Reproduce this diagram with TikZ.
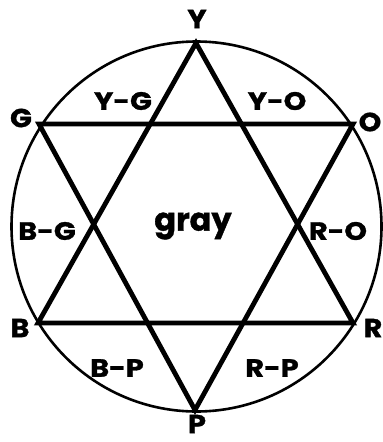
\documentclass[tikz,border=0pt]{standalone}
\usepackage{fontspec}
\setmainfont{Poppins}
\newfontfamily\heavy{Poppins}[BoldFeatures={FakeBold=1.2}]
\begin{document}
\begin{tikzpicture}[x=1pt,y=-1pt,
  vlab/.style={font=\heavy\fontsize{26}{26}\selectfont\bfseries, inner sep=0pt, xscale=1.1},
  rlab/.style={font=\heavy\fontsize{25}{25}\selectfont\bfseries, inner sep=0pt, xscale=1.15},
  glab/.style={font=\heavy\fontsize{32}{32}\selectfont\bfseries, inner sep=0pt, xscale=1.0},
  star/.style={line width=4.8pt, line join=miter, miter limit=10},
  ring/.style={line width=2.6pt}]
\useasboundingbox (0,0) rectangle (383,442);
\fill[white] (0,0) rectangle (383,442);
% vertices
\coordinate (Y) at (196,43);
\coordinate (G) at (39,124);
\coordinate (O) at (353,124);
\coordinate (B) at (38,323);
\coordinate (R) at (353,323);
\coordinate (P) at (195,410);
\coordinate (C) at (196.5,226.5);
% circle
\draw[ring] (C) circle[radius=185];
% triangles
\draw[star] (Y) -- (B) -- (R) -- cycle;
\draw[star] (G) -- (O) -- (P) -- cycle;
% vertex labels
\node[vlab] (lY) at (197,19) {Y};
\node[vlab] (lG) at (21,118) {G};
\node[vlab] (lO) at (370,122) {O};
\node[vlab] (lB) at (20,328) {B};
\node[vlab] (lR) at (373,328) {R};
\node[vlab] (lP) at (197,424) {P};
% region labels
\node[rlab] (yg) at (123,101) {Y-G};
\node[rlab] (yo) at (277,101) {Y-O};
\node[rlab] (bg) at (47,231) {B-G};
\node[rlab] (ro) at (338,231) {R-O};
\node[rlab] (bp) at (117,368) {B-P};
\node[rlab] (rp) at (272,368) {R-P};
\node[glab] (gr) at (193,226) {gray};
\end{tikzpicture}
\end{document}
